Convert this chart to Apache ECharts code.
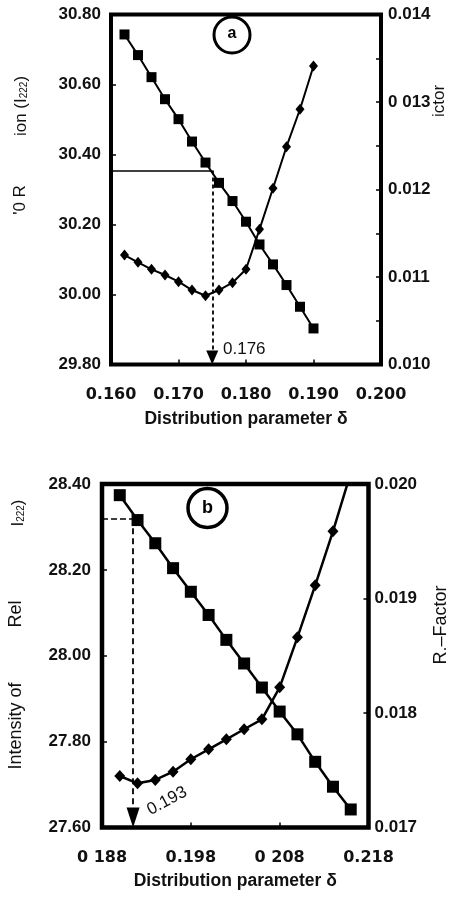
<!DOCTYPE html>
<html><head><meta charset="utf-8">
<script src="https://cdn.jsdelivr.net/npm/echarts@6/dist/echarts.min.js"></script>
<style>html,body{margin:0;padding:0;background:#fff}#c{width:457px;height:897px}</style>
</head><body><div id="c"></div>
<script>
// ---- Panel (a) ----
const deltaA = [0.162,0.164,0.166,0.168,0.170,0.172,0.174,0.176,0.178,0.180,0.182,0.184,0.186,0.188,0.190];
const intensityA = [30.743,30.684,30.621,30.558,30.501,30.437,30.377,30.319,30.267,30.208,30.143,30.086,30.027,29.965,29.903];
const rFactorA = [0.011251,0.011168,0.011088,0.011023,0.010946,0.010851,0.010786,0.010851,0.010935,0.011088,0.011545,0.012014,0.012489,0.012917,0.013411];
const optimumA = [0.175, 30.354];          // delta, intensity at optimum
const xTickLabelsA = ['0.160','0.170','0.180','0.190','0.200'];
const yLeftLabelsA = ['29.80','30.00','30.20','30.40','30.60','30.80'];
const yRightLabelsA = ['0.010','0.011','0.012','0 013','0.014'];

// ---- Panel (b) ----
const deltaB = [0.190,0.192,0.194,0.196,0.198,0.200,0.202,0.204,0.206,0.208,0.210,0.212,0.214,0.216];
const intensityB = [28.374,28.316,28.262,28.204,28.149,28.095,28.037,27.982,27.926,27.870,27.817,27.753,27.695,27.642];
const rFactorB = [0.017450,0.017386,0.017415,0.017487,0.017596,0.017683,0.017770,0.017858,0.017945,0.018224,0.018661,0.019115,0.019587,0.020096];
const optimumB = [0.1915, 28.320];
const xTickValuesB = [0.188,0.198,0.208,0.218];
const xTickLabelsB = ['0 188','0.198','0 208','0.218'];
const yLeftLabelsB = ['27.60','27.80','28.00','28.20','28.40'];
const yRightLabelsB = ['0.017','0.018','0.019','0.020'];

function pick(list, min, step) {
  return function (v) {
    const f = (v - min) / step, i = Math.round(f);
    return (Math.abs(f - i) < 1e-6 && list[i] != null) ? list[i] : '';
  };
}
const yFont = {fontFamily:'Liberation Sans', fontSize:17, fontWeight:'bold', color:'#111'};
const xFont = {fontFamily:'DejaVu Sans', fontSize:16, fontWeight:'bold', color:'#111'};
const nameFont = {fontFamily:'Liberation Sans', fontSize:17.5, fontWeight:'bold', color:'#111'};
const tickIn = {show:true, inside:true, length:5, lineStyle:{color:'#000', width:1.5}};

const chart = echarts.init(document.getElementById('c'), null, {renderer:'canvas'});
chart.setOption({
  animation:false,
  backgroundColor:'#fff',
  grid:[
    {left:111, top:14.5, width:270, height:350, show:true, borderColor:'#000', borderWidth:4, backgroundColor:'transparent'},
    {left:102, top:484, width:266.5, height:343.5, show:true, borderColor:'#000', borderWidth:4.5, backgroundColor:'transparent'}
  ],
  xAxis:[
    {type:'value', gridIndex:0, min:0.16, max:0.20, interval:0.01,
     axisLine:{show:false}, splitLine:{show:false}, axisTick:tickIn,
     axisLabel:Object.assign({margin:22, formatter:pick(xTickLabelsA, 0.16, 0.01)}, xFont),
     name:'Distribution parameter δ', nameLocation:'middle', nameGap:46, nameTextStyle:nameFont},
    {type:'value', gridIndex:1, min:0.188, max:0.218,
     axisLine:{show:false}, splitLine:{show:false},
     axisTick:Object.assign({customValues:[0.198,0.208]}, tickIn),
     axisLabel:Object.assign({margin:22, customValues:xTickValuesB, formatter:pick(xTickLabelsB, 0.188, 0.01)}, xFont),
     name:'Distribution parameter δ', nameLocation:'middle', nameGap:45, nameTextStyle:nameFont}
  ],
  yAxis:[
    {type:'value', gridIndex:0, position:'left', min:29.8, max:30.8, interval:0.2,
     axisLine:{show:false}, splitLine:{show:false}, axisTick:tickIn,
     axisLabel:Object.assign({margin:10, formatter:pick(yLeftLabelsA, 29.8, 0.2)}, yFont)},
    {type:'value', gridIndex:0, position:'right', min:0.010, max:0.014, interval:0.0005,
     axisLine:{show:false}, splitLine:{show:false}, axisTick:tickIn,
     axisLabel:Object.assign({margin:7, interval:0, formatter:pick(yRightLabelsA, 0.010, 0.001)}, yFont)},
    {type:'value', gridIndex:1, position:'left', min:27.6, max:28.4, interval:0.2,
     axisLine:{show:false}, splitLine:{show:false}, axisTick:tickIn,
     axisLabel:Object.assign({margin:11, formatter:pick(yLeftLabelsB, 27.6, 0.2)}, yFont)},
    {type:'value', gridIndex:1, position:'right', min:0.017, max:0.020, interval:0.001,
     axisLine:{show:false}, splitLine:{show:false}, axisTick:tickIn,
     axisLabel:Object.assign({margin:6, formatter:pick(yRightLabelsB, 0.017, 0.001)}, yFont)}
  ],
  series:[
    {type:'line', xAxisIndex:0, yAxisIndex:0, data:deltaA.map((d,i)=>[d,intensityA[i]]),
     symbol:'rect', symbolSize:10, itemStyle:{color:'#000'}, lineStyle:{color:'#000', width:2},
     markLine:{silent:true, animation:false, label:{show:false}, symbol:['none','none'],
       lineStyle:{color:'#000'},
       data:[
         [{coord:[0.16, optimumA[1]], lineStyle:{type:'solid', width:1.5, color:'#000'}}, {coord:[optimumA[0], optimumA[1]]}],
         [{coord:[optimumA[0], optimumA[1]], lineStyle:{type:[4,3], width:1.8, color:'#000'}},
          {coord:[optimumA[0], 29.82], symbol:'triangle', symbolSize:[12,14]}]
       ]}},
    {type:'line', xAxisIndex:0, yAxisIndex:1, data:deltaA.map((d,i)=>[d,rFactorA[i]]),
     symbol:'diamond', symbolSize:[9,11], itemStyle:{color:'#000'}, lineStyle:{color:'#000', width:2}},
    {type:'line', xAxisIndex:1, yAxisIndex:2, data:deltaB.map((d,i)=>[d,intensityB[i]]),
     symbol:'rect', symbolSize:12, itemStyle:{color:'#000'}, lineStyle:{color:'#000', width:2.5},
     markLine:{silent:true, animation:false, label:{show:false}, symbol:['none','none'],
       lineStyle:{color:'#000'},
       data:[
         [{coord:[0.188, optimumB[1]], lineStyle:{type:[6,3], width:1.5, color:'#000'}}, {coord:[optimumB[0], optimumB[1]]}],
         [{coord:[optimumB[0], optimumB[1]], lineStyle:{type:[6,4], width:1.8, color:'#000'}},
          {coord:[optimumB[0], 27.623], symbol:'triangle', symbolSize:[13,20]}]
       ]}},
    {type:'line', xAxisIndex:1, yAxisIndex:3, data:deltaB.map((d,i)=>[d,rFactorB[i]]),
     symbol:'diamond', symbolSize:[11,12], itemStyle:{color:'#000'}, lineStyle:{color:'#000', width:2.5}, clip:true}
  ],
  graphic:[
    {type:'circle', shape:{cx:232, cy:35, r:18}, style:{fill:'none', stroke:'#000', lineWidth:3}},
    {type:'text', x:232, y:34, style:{text:'a', fontFamily:'Liberation Sans', fontSize:16, fontWeight:'bold', fill:'#000', align:'center', verticalAlign:'middle'}},
    {type:'circle', shape:{cx:207.5, cy:508, r:19.5}, style:{fill:'none', stroke:'#000', lineWidth:3.5}},
    {type:'text', x:207.5, y:508, style:{text:'b', fontFamily:'Liberation Sans', fontSize:18, fontWeight:'bold', fill:'#000', align:'center', verticalAlign:'middle'}},
    {type:'text', x:223, y:349, style:{text:'0.176', fontFamily:'Liberation Sans', fontSize:17, fill:'#111', align:'left', verticalAlign:'middle'}},
    {type:'text', x:167, y:801, rotation:0.49, style:{text:'0.193', fontFamily:'Liberation Sans', fontSize:17, fill:'#111', align:'center', verticalAlign:'middle'}},
    // axis title fragments (partly lost in the original scan)
    {type:'text', x:21, y:106, rotation:Math.PI/2, style:{text:'{m|ion (I}{s|222}{m|)}', align:'center', verticalAlign:'middle',
      rich:{m:{fontFamily:'Liberation Sans', fontSize:17, fill:'#111'}, s:{fontFamily:'Liberation Sans', fontSize:10, fill:'#111', verticalAlign:'bottom', padding:[6,0,0,0]}}}},
    {type:'text', x:20, y:200, rotation:Math.PI/2, style:{text:"'0 R", fontFamily:'Liberation Sans', fontSize:17, fill:'#111', align:'center', verticalAlign:'middle'}},
    {type:'text', x:439, y:101, rotation:Math.PI/2, style:{text:'ictor', fontFamily:'Liberation Sans', fontSize:17, fill:'#111', align:'center', verticalAlign:'middle'}},
    {type:'text', x:16, y:726, rotation:Math.PI/2, style:{text:'Intensity of', fontFamily:'Liberation Sans', fontSize:18, fill:'#111', align:'center', verticalAlign:'middle'}},
    {type:'text', x:16, y:614, rotation:Math.PI/2, style:{text:'Rel', fontFamily:'Liberation Sans', fontSize:18, fill:'#111', align:'center', verticalAlign:'middle'}},
    {type:'text', x:18, y:513, rotation:Math.PI/2, style:{text:'{m|I}{s|222}{m|)}', align:'center', verticalAlign:'middle',
      rich:{m:{fontFamily:'Liberation Sans', fontSize:17, fill:'#111'}, s:{fontFamily:'Liberation Sans', fontSize:10, fill:'#111', padding:[6,0,0,0]}}}},
    {type:'text', x:441, y:625, rotation:Math.PI/2, style:{text:'R.–Factor', fontFamily:'Liberation Sans', fontSize:18, fill:'#111', align:'center', verticalAlign:'middle'}}
  ]
});
</script></body></html>
